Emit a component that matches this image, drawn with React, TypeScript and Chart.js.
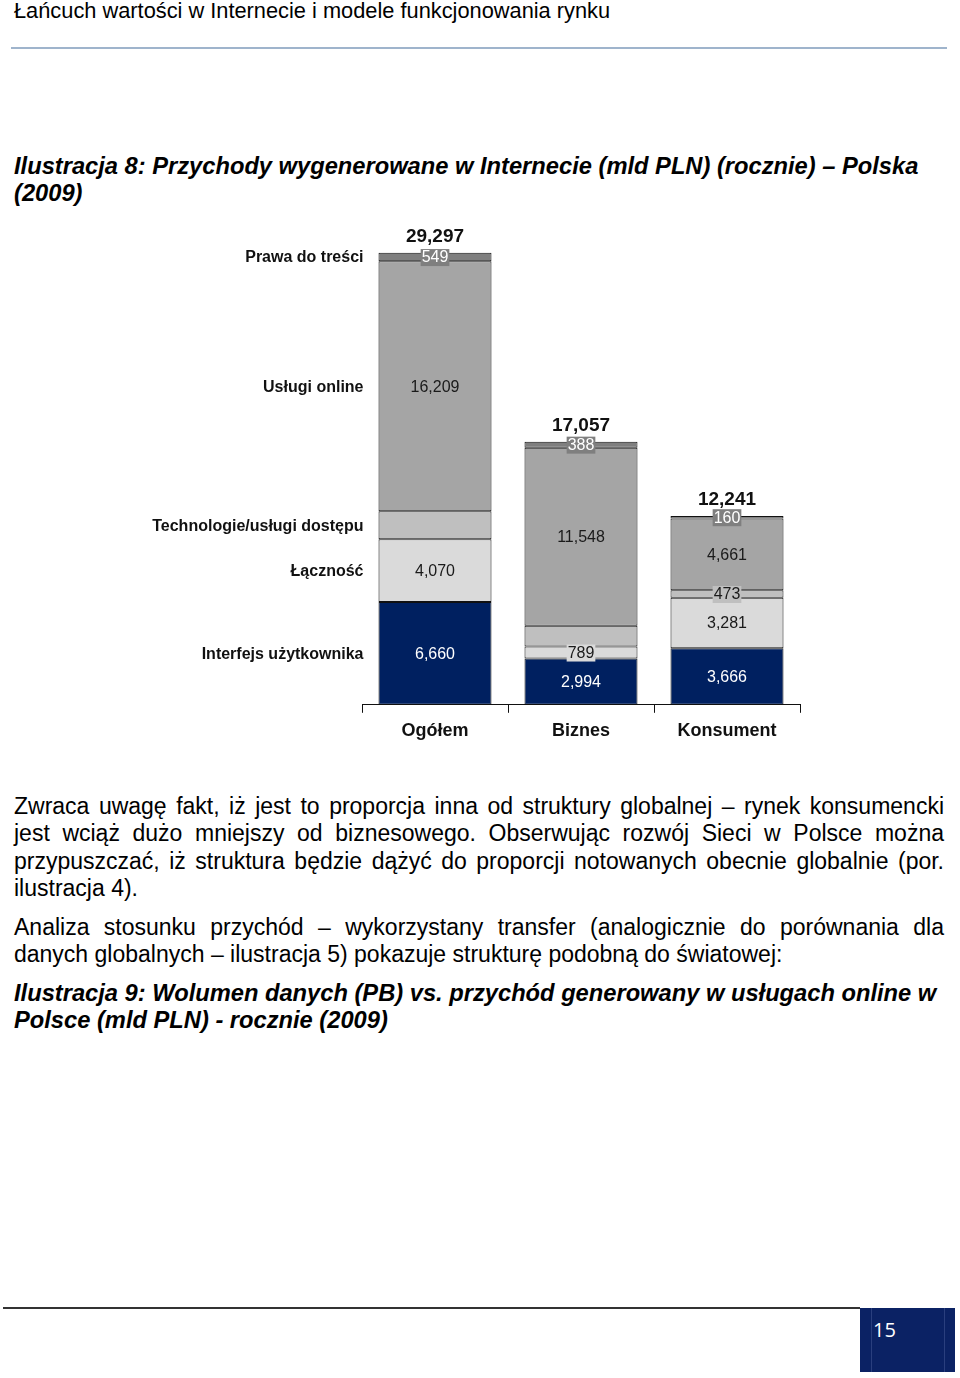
import React, { useEffect, useRef } from "react";
import { Chart, registerables } from "chart.js";

Chart.register(...registerables);

const categories = ["Ogółem", "Biznes", "Konsument"];
const seriesNames = [
  "Interfejs użytkownika",
  "Łączność",
  "Technologie/usługi dostępu",
  "Usługi online",
  "Prawa do treści",
];
const interfejs = [6660, 2994, 3666];
const lacznosc = [4070, 789, 3281];
const technologie = [1809, 1338, 473];
const uslugi = [16209, 11548, 4661];
const prawa = [549, 388, 160];
const totals = [29297, 17057, 12241];
// which segment values are printed
const showTechnologie = [false, false, true];

const colors = ["#002060", "#dadada", "#bfbfbf", "#a5a5a5", "#7f7f7f"];
const labelColors = ["#ffffff", "#1a1a1a", "#1a1a1a", "#1a1a1a", "#ffffff"];

const FONT = "'Liberation Sans', Arial, sans-serif";

const fmt = (v: number) => v.toLocaleString("en-US");

const labelsPlugin = {
  id: "segLabels",
  afterDatasetsDraw(chart: any) {
    const ctx = chart.ctx;
    ctx.save();
    ctx.textBaseline = "middle";
    // segment values
    chart.data.datasets.forEach((ds: any, i: number) => {
      const meta = chart.getDatasetMeta(i);
      meta.data.forEach((el: any, j: number) => {
        if (i === 2 && !showTechnologie[j]) return;
        const v = ds.data[j];
        const yc = (el.y + el.base) / 2;
        const h = Math.abs(el.base - el.y);
        ctx.font = `16px ${FONT}`;
        ctx.textAlign = "center";
        const txt = fmt(v);
        if (h < 18) {
          const w = ctx.measureText(txt).width;
          ctx.fillStyle = colors[i];
          ctx.fillRect(el.x - w / 2 - 1, yc - 8, w + 2, 17);
        }
        ctx.fillStyle = labelColors[i];
        ctx.fillText(txt, el.x, yc + 1);
      });
    });
    // totals
    const topMeta = chart.getDatasetMeta(chart.data.datasets.length - 1);
    topMeta.data.forEach((el: any, j: number) => {
      ctx.font = `bold 19px ${FONT}`;
      ctx.textAlign = "center";
      ctx.fillStyle = "#111";
      ctx.fillText(fmt(totals[j]), el.x, el.y - 16);
    });
    // series names next to first bar
    chart.data.datasets.forEach((ds: any, i: number) => {
      const el = chart.getDatasetMeta(i).data[0];
      const yc = (el.y + el.base) / 2;
      const left = el.x - el.width / 2;
      ctx.font = `bold 16px ${FONT}`;
      ctx.textAlign = "right";
      ctx.fillStyle = "#111";
      ctx.fillText(seriesNames[i], left - 15, yc + 1);
    });
    ctx.restore();
  },
};

function BarChart() {
  const ref = useRef<HTMLCanvasElement>(null);
  useEffect(() => {
    const series = [interfejs, lacznosc, technologie, uslugi, prawa];
    const chart = new Chart(ref.current!, {
      type: "bar",
      data: {
        labels: categories,
        datasets: series.map((d, i) => ({
          label: seriesNames[i],
          data: d,
          backgroundColor: colors[i],
          borderColor: "#111",
          borderWidth: 1,
          borderSkipped: false,
          categoryPercentage: 1,
          barPercentage: 0.774,
        })),
      },
      options: {
        animation: false,
        responsive: false,
        maintainAspectRatio: false,
        layout: { padding: { left: 222, right: 20, top: 32, bottom: 11.6 } },
        plugins: { legend: { display: false }, tooltip: { enabled: false } },
        scales: {
          x: {
            stacked: true,
            offset: true,
            grid: {
              offset: true,
              drawOnChartArea: false,
              drawTicks: true,
              tickLength: 8,
              color: "#111",
            },
            border: { display: true, color: "#111", width: 1 },
            ticks: {
              color: "#111",
              padding: 7,
              font: { family: FONT, size: 18, weight: "bold" },
            },
          },
          y: { stacked: true, display: false, min: 0, max: 30000 },
        },
      },
      plugins: [labelsPlugin],
    });
    return () => chart.destroy();
  }, []);
  return <canvas ref={ref} width={680} height={550} style={{ position: "absolute", left: 140, top: 210, width: 680, height: 550 }} />;
}

export default function App() {
  const page: React.CSSProperties = {
    position: "absolute",
    left: 0,
    top: 0,
    width: 960,
    height: 1378,
    background: "#fff",
    fontFamily: FONT,
    color: "#000",
    overflow: "hidden",
  };
  const para: React.CSSProperties = {
    position: "absolute",
    left: 14,
    width: 930,
    fontSize: 23,
    lineHeight: "27.3px",
    textAlign: "justify",
    margin: 0,
  };
  const caption: React.CSSProperties = {
    ...para,
    fontSize: 23.7,
    fontWeight: "bold",
    fontStyle: "italic",
    textAlign: "left",
  };
  return (
    <div style={page}>
      <div style={{ position: "absolute", left: 14, top: -2, fontSize: 21.8, lineHeight: "26px", whiteSpace: "nowrap" }}>
        Łańcuch wartości w Internecie i modele funkcjonowania rynku
      </div>
      <div style={{ position: "absolute", left: 11, top: 47, width: 936, height: 2, background: "#9fb4cc" }} />
      <div style={{ ...caption, top: 153 }}>
        Ilustracja 8: Przychody wygenerowane w Internecie (mld PLN) (rocznie) – Polska (2009)
      </div>
      <BarChart />
      <div style={{ ...para, top: 793 }}>
        Zwraca uwagę fakt, iż jest to proporcja inna od struktury globalnej – rynek konsumencki jest wciąż dużo mniejszy od biznesowego. Obserwując rozwój Sieci w Polsce można przypuszczać, iż struktura będzie dążyć do proporcji notowanych obecnie globalnie (por. ilustracja 4).
      </div>
      <div style={{ ...para, top: 914 }}>
        Analiza stosunku przychód – wykorzystany transfer (analogicznie do porównania dla danych globalnych – ilustracja 5) pokazuje strukturę podobną do światowej:
      </div>
      <div style={{ ...caption, top: 980 }}>
        Ilustracja 9: Wolumen danych (PB) vs. przychód generowany w usługach online w Polsce (mld PLN) - rocznie (2009)
      </div>
      <div style={{ position: "absolute", left: 3, top: 1307, width: 857, height: 2, background: "#333" }} />
      <div style={{ position: "absolute", left: 860, top: 1308, width: 95, height: 64, background: "#0b2264" }}>
        <div style={{ position: "absolute", left: 11, top: 0, width: 1, height: 64, background: "#2a3f7e" }} />
        <div style={{ position: "absolute", left: 84, top: 0, width: 1, height: 64, background: "#2a3f7e" }} />
        <div style={{ position: "absolute", left: 13, top: 10, color: "#fff", fontSize: 20, fontFamily: "'Open Sans', sans-serif", lineHeight: "24px" }}>15</div>
      </div>
    </div>
  );
}
